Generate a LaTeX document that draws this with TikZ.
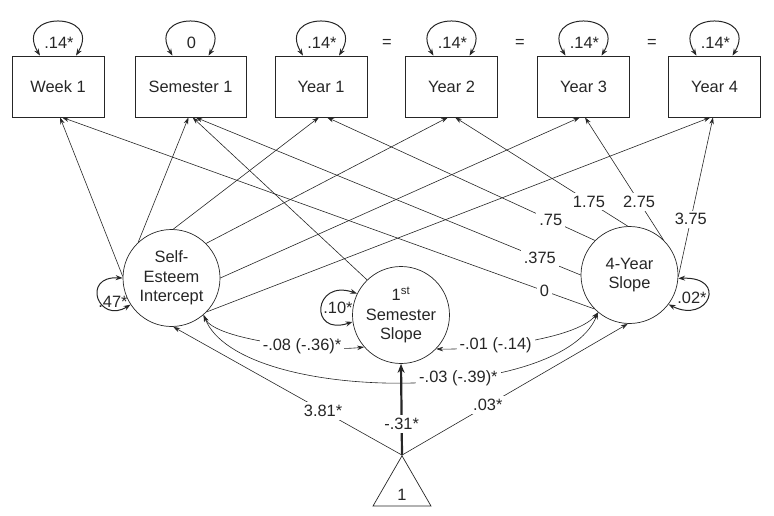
\documentclass[tikz,border=0pt]{standalone}
\usepackage{fontspec}
\setmainfont{Liberation Sans}
\usetikzlibrary{arrows.meta,shapes.geometric}
\definecolor{ink}{HTML}{262626}
\begin{document}
\begin{tikzpicture}[x=1pt,y=-1pt,
  font=\fontsize{16.4pt}{19.5pt}\selectfont,
  every node/.style={text=ink},
  box/.style={draw=ink, line width=0.7pt, minimum width=92pt, minimum height=61pt, inner sep=0pt},
  lat/.style={draw=ink, circle, line width=0.7pt, minimum size=97pt, inner sep=0pt, align=center},
  arr/.style={draw=ink, line width=0.6pt, -{Stealth[length=7pt,width=4.5pt]}},
  dbl/.style={draw=ink, line width=0.6pt, {Stealth[length=7pt,width=4.5pt]}-{Stealth[length=7pt,width=4.5pt]}},
  vloop/.style={draw=ink, line width=1pt, {Stealth[length=7pt,width=5pt]}-{Stealth[length=7pt,width=5pt]}},
  thick arr/.style={draw=ink, line width=2.2pt, -{Stealth[length=9pt,width=7pt]}},
  lbl/.style={fill=white, inner sep=3pt}]
\useasboundingbox (0,0) rectangle (774,516);

% observed variables
\node[box] (w1) at (58,86.5) {Week 1};
\node[box, minimum width=111pt] (s1) at (190.5,86.5) {Semester 1};
\node[box] (y1) at (321,86.5) {Year 1};
\node[box] (y2) at (451.5,86.5) {Year 2};
\node[box] (y3) at (583.5,86.5) {Year 3};
\node[box] (y4) at (714.5,86.5) {Year 4};

% residual variance loops on boxes
\foreach \b/\t in {w1/.14*, s1/0, y1/.14*, y2/.14*, y3/.14*, y4/.14*}{
  \draw[vloop] ([xshift=-18pt]\b.north) .. controls +(-27,-45) and +(27,-45) .. ([xshift=18pt]\b.north);
  \node (lab\b) at ([xshift=1pt,yshift=13pt]\b.north) {\t};
}
\node (eq1) at (387,43) {=};
\node (eq2) at (520,43) {=};
\node (eq3) at (652,43) {=};

% latent variables
\node[lat] (se) at (171.5,278) {Self-\\Esteem\\Intercept};
\node[lat] (ss) at (401,315) {1\textsuperscript{st}\\Semester\\Slope};
\node[lat] (ys) at (629.5,275) {4-Year\\Slope};

% constant
\node[draw=ink, line width=0.7pt, regular polygon, regular polygon sides=3, minimum size=67pt, inner sep=0pt] (tri) at (402,489.3) {};
\node (one) at (402,495) {1};

% intercept loadings
\draw[arr] (se.178) -- ([xshift=2pt]w1.south);
\draw[arr] (se.133) -- ([xshift=-2pt]s1.south);
\draw[arr] (se.88) -- ([xshift=-2pt]y1.south);
\draw[arr] (se.45) -- ([xshift=-3.5pt]y2.south);
\draw[arr] (se.0) -- ([xshift=-3.5pt]y3.south);
\draw[arr] (se.-44) -- ([xshift=-4pt]y4.south);

% semester slope loading
\draw[arr] (ss.134) -- ([xshift=2pt]s1.south);

% 4-year slope loadings
\draw[arr] (ys.224) -- node[lbl, pos=0.094] {0} ([xshift=4pt]w1.south);
\draw[arr] (ys.180) -- node[lbl, pos=0.106] {.375} ([xshift=5pt]s1.south);
\draw[arr] (ys.135) -- node[lbl, pos=0.165] {.75} ([xshift=6pt]y1.south);
\draw[arr] (ys.92) -- node[lbl, pos=0.225] {1.75} ([xshift=3.5pt]y2.south);
\draw[arr] (ys.46) -- node[lbl, pos=0.31] {2.75} ([xshift=1.5pt]y3.south);
\draw[arr] (ys.-2) -- node[lbl, pos=0.36] {3.75} ([xshift=-1.5pt]y4.south);

% latent variance loops
\draw[vloop] (se.180) .. controls +(-42,-2) and +(-32,20) .. (se.213);
\node (v1) at (113,302) {.47*};
\draw[vloop] (ss.154) .. controls +(-44,-15) and +(-44,15) .. (ss.188);
\node (v2) at (338,308) {.10*};
\draw[vloop] (ys.-4.5) .. controls +(50,-2) and +(40,20) .. (ys.-37);
\node (v3) at (692,298) {.02*};

% covariances
\draw[dbl] (se.-49) .. controls (240,405) and (560,405) .. node[lbl, pos=0.61] {-.03 (-.39)*} (ys.230);
\draw[dbl] (se.-49) .. controls (215,340) and (320,352) .. node[lbl, pos=0.65] {-.08 (-.36)*} (ss.221);
\draw[dbl] (ss.-44) .. controls (480,350) and (575,340) .. node[lbl, pos=0.35] {-.01 (-.14)} (ys.230);

% means
\draw[arr] (tri.corner 1) -- node[lbl, pos=0.345] {3.81*} (se.-88);
\draw[arr] (tri.corner 1) -- node[lbl, pos=0.38] {.03*} (ys.-92);
\draw[thick arr] (tri.corner 1) -- node[lbl, pos=0.344] {-.31*} (ss.south);
\end{tikzpicture}
\end{document}
